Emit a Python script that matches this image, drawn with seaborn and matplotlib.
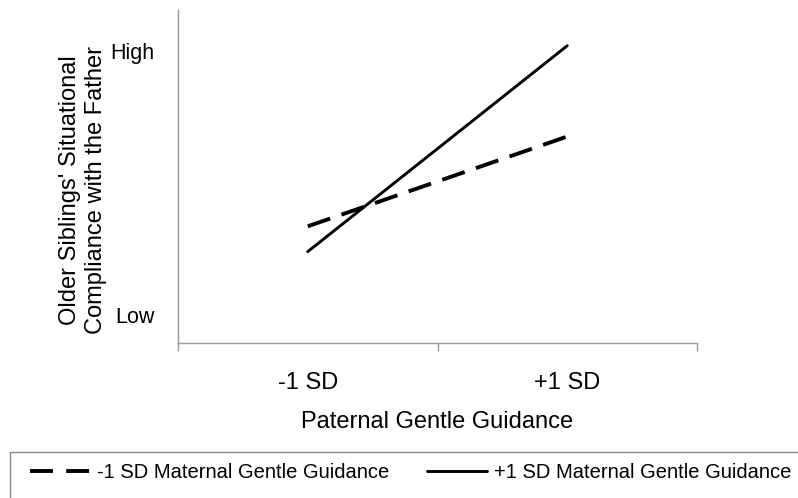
import matplotlib
matplotlib.use("Agg")
import matplotlib.pyplot as plt
import seaborn as sns
import pandas as pd
from matplotlib.ticker import FixedLocator
from matplotlib.lines import Line2D
from matplotlib.patches import Rectangle

categories = ["-1 SD", "+1 SD"]
series_names = ["-1 SD Maternal Gentle Guidance", "+1 SD Maternal Gentle Guidance"]
low_maternal = [0.336, 0.676]
high_maternal = [0.240, 1.020]
y_tick_values = [0.0, 1.0]
y_tick_labels = ["Low", "High"]

rows = []
for name, vals in zip(series_names, [low_maternal, high_maternal]):
    for c, v in zip(categories, vals):
        rows.append({"Paternal": c, "Compliance": v, "Maternal": name})
df = pd.DataFrame(rows)

sns.set_style("white")
plt.rcParams["font.family"] = ["Liberation Sans", "DejaVu Sans"]
plt.rcParams["text.color"] = "black"
plt.rcParams["axes.labelcolor"] = "black"
plt.rcParams["xtick.labelcolor"] = "black"
plt.rcParams["ytick.labelcolor"] = "black"

W, H = 798, 498
fig = plt.figure(figsize=(W/100, H/100), dpi=100)
ax = fig.add_axes([178/W, 1-343/H, (697-178)/W, (343-10)/H])

DASH = (6.1, 3.05)
sns.lineplot(data=df, x="Paternal", y="Compliance", hue="Maternal", style="Maternal",
             palette={series_names[0]: "black", series_names[1]: "black"},
             dashes={series_names[0]: DASH, series_names[1]: ""},
             sort=False, ax=ax, legend=False)
lines = ax.get_lines()
lines[0].set_linewidth(2.8)
lines[1].set_linewidth(2.1)

ax.set_xlim(-0.5, 1.5)
ax.set_ylim((315-343)/264, (315-10)/264)

ax.set_xticks([0, 1])
ax.set_xticklabels(categories, fontsize=17)
ax.xaxis.set_minor_locator(FixedLocator([-0.5, 0.5, 1.5]))
ax.tick_params(axis="x", which="major", length=0, pad=21, labelcolor="black")
ax.tick_params(axis="x", which="minor", length=6, width=1, color="#999999", bottom=True)

ax.set_yticks(y_tick_values)
ax.set_yticklabels(y_tick_labels, fontsize=15.5)
ax.tick_params(axis="y", which="major", length=0, pad=17, labelcolor="black")

for s in ["top", "right"]:
    ax.spines[s].set_visible(False)
for s in ["left", "bottom"]:
    ax.spines[s].set_color("#999999")
    ax.spines[s].set_linewidth(1)

ax.set_xlabel("Paternal Gentle Guidance", fontsize=17, labelpad=12, color="black")
ax.set_ylabel("")
fig.text(83/W, 1-190/H, "Older Siblings' Situational\nCompliance with the Father",
         rotation=90, ha="center", va="center", fontsize=17, linespacing=1.25,
         color="black")

# legend frame (extends past the figure edge as in the reference)
fig.patches.append(Rectangle((10/W, -0.2), 1.0, 1-452/H+0.2, transform=fig.transFigure,
                             facecolor="none", edgecolor="#888888", linewidth=1,
                             clip_on=False))

handles = [Line2D([], [], color="black", lw=2.8, dashes=(5.9, 3.4)),
           Line2D([], [], color="black", lw=2.1)]
leg = fig.legend(handles, series_names, loc="upper left",
                 bbox_to_anchor=(30/W, 1-463/H), ncol=2, fontsize=14.5,
                 frameon=False, borderpad=0, borderaxespad=0,
                 handlelength=3.0, handletextpad=0.35, columnspacing=1.85,
                 labelcolor="black")

fig.savefig("out.png", dpi=100)
